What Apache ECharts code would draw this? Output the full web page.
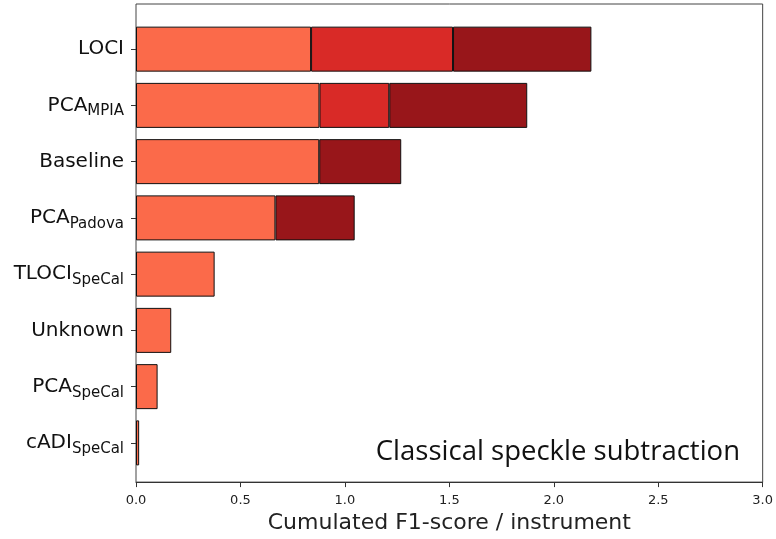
<!DOCTYPE html>
<html><head><meta charset="utf-8">
<script src="https://cdn.jsdelivr.net/npm/echarts@6/dist/echarts.min.js"></script>
<style>html,body{margin:0;padding:0;background:#fff}#c{width:776px;height:539px}</style>
</head><body><div id="c"></div>
<script>
const mainNames = ['LOCI','PCA','Baseline','PCA','TLOCI','Unknown','PCA','cADI'];
const subNames  = ['','MPIA','','Padova','SpeCal','','SpeCal','SpeCal'];
const seg1 = [0.835,0.875,0.874,0.665,0.375,0.168,0.103,0.015];
const seg2 = [0.677,0.333,null,null,null,null,null,null];
const seg3 = [0.660,0.658,0.391,0.378,null,null,null,null];
const xTicks = [0,0.5,1,1.5,2,2.5,3];
const xName = 'Cumulated F1-score / instrument';
const annotation = 'Classical speckle subtraction';

const categories = mainNames.map((m,i)=>m+'|'+subNames[i]);
const chart = echarts.init(document.getElementById('c'));
const L=136, R=11, T=4, B=50;
const barStyle = (c)=>({color:c,borderColor:'#111',borderWidth:1});
chart.setOption({
  animation:false,
  grid:[
    {left:L,right:R,top:21,bottom:68},
    {left:L,right:R,top:T,bottom:B,show:true,borderColor:'#444',borderWidth:1,backgroundColor:'transparent'}
  ],
  xAxis:[
    {gridIndex:0,type:'value',min:0,max:3,show:false},
    {gridIndex:1,type:'value',min:xTicks[0],max:xTicks[xTicks.length-1],interval:0.5,
     axisLine:{show:true,lineStyle:{color:'#333'}},
     axisTick:{show:true,length:5,lineStyle:{color:'#333'}},
     splitLine:{show:false},
     axisLabel:{color:'#222',fontSize:13,fontFamily:'DejaVu Sans',margin:12,formatter:v=>v.toFixed(1)},
     name:xName,nameLocation:'middle',nameGap:27,
     nameTextStyle:{color:'#222',fontSize:22,fontFamily:'DejaVu Sans'}}
  ],
  yAxis:[
    {gridIndex:0,type:'category',data:categories,inverse:true,
     axisLine:{show:false},
     axisTick:{show:true,alignWithLabel:true,length:5,lineStyle:{color:'#333'}},
     axisLabel:{margin:12,
       formatter:(v)=>{const p=v.split('|');return '{m|'+p[0]+'}'+(p[1]?'{s|'+p[1]+'}':'');},
       rich:{
         m:{fontSize:20,fontFamily:'DejaVu Sans',color:'#111',lineHeight:30,verticalAlign:'middle'},
         s:{fontSize:15,fontFamily:'DejaVu Sans',color:'#111',lineHeight:15,padding:[12,0,0,0],verticalAlign:'middle'}
       }}},
    {gridIndex:1,type:'value',show:false,min:0,max:1}
  ],
  series:[
    {type:'bar',stack:'a',xAxisIndex:0,yAxisIndex:0,data:seg1,barWidth:'80%',itemStyle:barStyle('#fb6a4a')},
    {type:'bar',stack:'a',xAxisIndex:0,yAxisIndex:0,data:seg2,barWidth:'80%',itemStyle:barStyle('#d92a27')},
    {type:'bar',stack:'a',xAxisIndex:0,yAxisIndex:0,data:seg3,barWidth:'80%',itemStyle:barStyle('#98161a')}
  ],
  graphic:[
    {type:'text',right:36,top:438,style:{text:annotation,fontSize:27.5,fontFamily:'Open Sans',fill:'#111'}}
  ]
});
</script></body></html>
